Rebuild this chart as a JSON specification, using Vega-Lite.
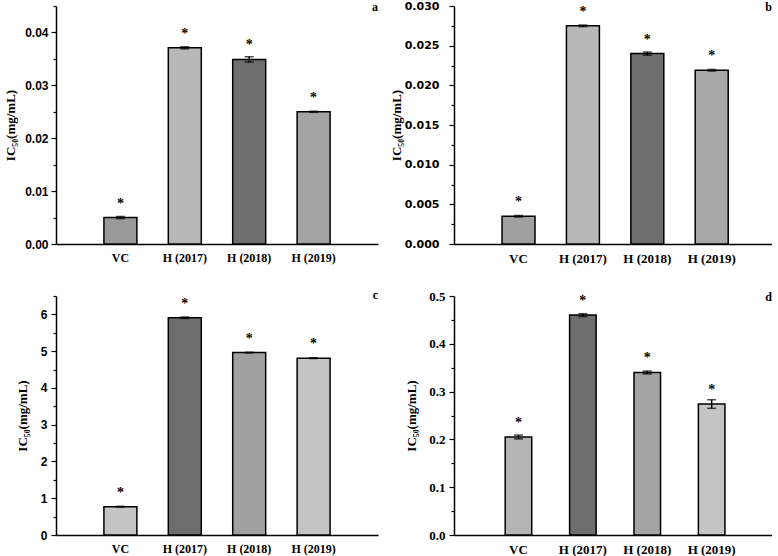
{
  "$schema": "https://vega.github.io/schema/vega-lite/v6.json",
  "background": "white",
  "padding": {"left": 4, "top": 0, "right": 0, "bottom": 0},
  "data": {"values": [
    {"p": "a", "g": "VC", "v": 0.0050, "e": 0.0002},
    {"p": "a", "g": "H (2017)", "v": 0.0371, "e": 0.0002},
    {"p": "a", "g": "H (2018)", "v": 0.0349, "e": 0.0005},
    {"p": "a", "g": "H (2019)", "v": 0.0250, "e": 0.0001},
    {"p": "b", "g": "VC", "v": 0.0035, "e": 0.0001},
    {"p": "b", "g": "H (2017)", "v": 0.0275, "e": 0.0001},
    {"p": "b", "g": "H (2018)", "v": 0.0240, "e": 0.0002},
    {"p": "b", "g": "H (2019)", "v": 0.0219, "e": 0.0001},
    {"p": "c", "g": "VC", "v": 0.77, "e": 0.01},
    {"p": "c", "g": "H (2017)", "v": 5.91, "e": 0.02},
    {"p": "c", "g": "H (2018)", "v": 4.96, "e": 0.01},
    {"p": "c", "g": "H (2019)", "v": 4.81, "e": 0.01},
    {"p": "d", "g": "VC", "v": 0.205, "e": 0.004},
    {"p": "d", "g": "H (2017)", "v": 0.46, "e": 0.003},
    {"p": "d", "g": "H (2018)", "v": 0.34, "e": 0.003},
    {"p": "d", "g": "H (2019)", "v": 0.274, "e": 0.009}
  ]},
  "config": {
    "view": {"stroke": null},
    "axis": {"domainColor": "black", "tickColor": "black", "labelColor": "black", "titleColor": "black", "grid": false},
    "text": {"color": "black"},
    "title": {"color": "black"}
  },
  "columns": 2,
  "spacing": {"row": 52, "column": 76},
  "bounds": "flush",
  "resolve": {"scale": {"fill": "independent", "x": "independent", "y": "independent"}},
  "concat": [
    {
      "width": 322, "height": 238,
      "transform": [{"filter": "datum.p === 'a'"}],
      "title": {"text": "a", "anchor": "end", "frame": "group", "offset": -13.5, "font": "Liberation Serif", "fontSize": 12, "fontWeight": "bold"},
      "encoding": {
        "x": {"field": "g", "type": "nominal", "sort": null, "scale": {"paddingInner": 0.488, "paddingOuter": 0.744},
          "axis": {"title": null, "ticks": false, "labelAngle": 0, "labelFont": "Liberation Serif", "labelFontSize": 12, "labelFontWeight": "bold", "labelPadding": 8, "domainWidth": 1.5}},
        "y": {"field": "v", "type": "quantitative", "scale": {"domain": [0, 0.045], "nice": false},
          "axis": {"title": "IC₅₀(mg/mL)", "titleFont": "Liberation Serif", "titleFontSize": 13, "titleFontWeight": "bold", "titlePadding": 7,
            "values": [0, 0.005, 0.01, 0.015, 0.02, 0.025, 0.03, 0.035, 0.04, 0.045],
            "labelExpr": "abs(datum.value*100 - round(datum.value*100)) < 0.001 ? format(datum.value, '.2f') : ''",
            "tickSize": {"condition": {"test": "abs(datum.value*100 - round(datum.value*100)) < 0.001", "value": 5}, "value": 3},
            "labelFont": "Liberation Sans", "labelFontSize": 12, "labelFontWeight": "bold", "labelPadding": 3, "labelOverlap": false, "labelFlush": false, "domainWidth": 1.5, "tickWidth": 1.2}}
      },
      "layer": [
        {"mark": {"type": "bar", "stroke": "black", "strokeWidth": 1.5},
          "encoding": {"fill": {"field": "g", "type": "nominal", "scale": {"domain": ["VC", "H (2017)", "H (2018)", "H (2019)"], "range": ["#9a9a9a", "#b8b8b8", "#6e6e6e", "#a4a4a4"]}, "legend": null}}},
        {"mark": {"type": "errorbar", "ticks": {"size": 9}, "thickness": 1.5},
          "encoding": {"yError": {"field": "e"}, "color": {"value": "black"}}},
        {"mark": {"type": "text", "text": "*", "dy": -14, "font": "Liberation Serif", "fontSize": 14, "fontWeight": "bold", "color": "black"}}
      ]
    },
    {
      "width": 318, "height": 238,
      "transform": [{"filter": "datum.p === 'b'"}],
      "title": {"text": "b", "anchor": "end", "frame": "group", "offset": -14, "font": "Liberation Serif", "fontSize": 12, "fontWeight": "bold"},
      "encoding": {
        "x": {"field": "g", "type": "nominal", "sort": null, "scale": {"paddingInner": 0.488, "paddingOuter": 0.713, "align": 0.523},
          "axis": {"title": null, "ticks": false, "labelAngle": 0, "labelFont": "Liberation Serif", "labelFontSize": 13, "labelFontWeight": "bold", "labelPadding": 8, "domainWidth": 1.5}},
        "y": {"field": "v", "type": "quantitative", "scale": {"domain": [0, 0.030], "nice": false},
          "axis": {"title": "IC₅₀(mg/mL)", "titleFont": "Liberation Serif", "titleFontSize": 13, "titleFontWeight": "bold", "titlePadding": 1,
            "values": [0, 0.0025, 0.005, 0.0075, 0.01, 0.0125, 0.015, 0.0175, 0.02, 0.0225, 0.025, 0.0275, 0.03],
            "labelExpr": "abs(datum.value*200 - round(datum.value*200)) < 0.001 ? format(datum.value, '.3f') : ''",
            "tickSize": {"condition": {"test": "abs(datum.value*200 - round(datum.value*200)) < 0.001", "value": 5}, "value": 3},
            "labelFont": "DejaVu Sans", "labelFontSize": 11, "labelFontWeight": "bold", "labelPadding": 10, "labelOverlap": false, "labelFlush": false, "domainWidth": 1.5, "tickWidth": 1.2}}
      },
      "layer": [
        {"mark": {"type": "bar", "stroke": "black", "strokeWidth": 1.5},
          "encoding": {"fill": {"field": "g", "type": "nominal", "scale": {"domain": ["VC", "H (2017)", "H (2018)", "H (2019)"], "range": ["#a0a0a0", "#b8b8b8", "#6e6e6e", "#a8a8a8"]}, "legend": null}}},
        {"mark": {"type": "errorbar", "ticks": {"size": 9}, "thickness": 1.5},
          "encoding": {"yError": {"field": "e"}, "color": {"value": "black"}}},
        {"mark": {"type": "text", "text": "*", "dy": -14, "font": "Liberation Serif", "fontSize": 14, "fontWeight": "bold", "color": "black"}}
      ]
    },
    {
      "width": 322, "height": 239,
      "transform": [{"filter": "datum.p === 'c'"}],
      "title": {"text": "c", "anchor": "end", "frame": "group", "offset": -11.5, "font": "Liberation Serif", "fontSize": 12, "fontWeight": "bold"},
      "encoding": {
        "x": {"field": "g", "type": "nominal", "sort": null, "scale": {"paddingInner": 0.488, "paddingOuter": 0.744},
          "axis": {"title": null, "ticks": false, "labelAngle": 0, "labelFont": "Liberation Serif", "labelFontSize": 12, "labelFontWeight": "bold", "labelPadding": 8, "domainWidth": 1.5}},
        "y": {"field": "v", "type": "quantitative", "scale": {"domain": [0, 6.5], "nice": false},
          "axis": {"title": "IC₅₀(mg/mL)", "titleFont": "Liberation Serif", "titleFontSize": 13, "titleFontWeight": "bold", "titlePadding": 11,
            "values": [0, 0.5, 1, 1.5, 2, 2.5, 3, 3.5, 4, 4.5, 5, 5.5, 6, 6.5],
            "labelExpr": "abs(datum.value - round(datum.value)) < 0.001 ? format(datum.value, 'd') : ''",
            "tickSize": {"condition": {"test": "abs(datum.value - round(datum.value)) < 0.001", "value": 5}, "value": 3},
            "labelFont": "Liberation Sans", "labelFontSize": 12, "labelFontWeight": "bold", "labelPadding": 4, "labelOverlap": false, "labelFlush": false, "domainWidth": 1.5, "tickWidth": 1.2}}
      },
      "layer": [
        {"mark": {"type": "bar", "stroke": "black", "strokeWidth": 1.5},
          "encoding": {"fill": {"field": "g", "type": "nominal", "scale": {"domain": ["VC", "H (2017)", "H (2018)", "H (2019)"], "range": ["#c4c4c4", "#6e6e6e", "#a0a0a0", "#c4c4c4"]}, "legend": null}}},
        {"mark": {"type": "errorbar", "ticks": {"size": 9}, "thickness": 1.5},
          "encoding": {"yError": {"field": "e"}, "color": {"value": "black"}}},
        {"mark": {"type": "text", "text": "*", "dy": -14, "font": "Liberation Serif", "fontSize": 14, "fontWeight": "bold", "color": "black"}}
      ]
    },
    {
      "width": 318, "height": 239,
      "transform": [{"filter": "datum.p === 'd'"}],
      "title": {"text": "d", "anchor": "end", "frame": "group", "offset": -14.3, "font": "Liberation Serif", "fontSize": 12, "fontWeight": "bold"},
      "encoding": {
        "x": {"field": "g", "type": "nominal", "sort": null, "scale": {"paddingInner": 0.588, "paddingOuter": 0.763, "align": 0.521},
          "axis": {"title": null, "ticks": false, "labelAngle": 0, "labelFont": "Liberation Serif", "labelFontSize": 13, "labelFontWeight": "bold", "labelPadding": 8, "domainWidth": 1.5}},
        "y": {"field": "v", "type": "quantitative", "scale": {"domain": [0, 0.5], "nice": false},
          "axis": {"title": "IC₅₀(mg/mL)", "titleFont": "Liberation Serif", "titleFontSize": 13, "titleFontWeight": "bold", "titlePadding": 10,
            "values": [0, 0.05, 0.1, 0.15, 0.2, 0.25, 0.3, 0.35, 0.4, 0.45, 0.5],
            "labelExpr": "abs(datum.value*10 - round(datum.value*10)) < 0.001 ? format(datum.value, '.1f') : ''",
            "tickSize": {"condition": {"test": "abs(datum.value*10 - round(datum.value*10)) < 0.001", "value": 5}, "value": 3},
            "labelFont": "Liberation Serif", "labelFontSize": 13, "labelFontWeight": "bold", "labelPadding": 4, "labelOverlap": false, "labelFlush": false, "domainWidth": 1.5, "tickWidth": 1.2}}
      },
      "layer": [
        {"mark": {"type": "bar", "stroke": "black", "strokeWidth": 1.5},
          "encoding": {"fill": {"field": "g", "type": "nominal", "scale": {"domain": ["VC", "H (2017)", "H (2018)", "H (2019)"], "range": ["#b4b4b4", "#6e6e6e", "#a4a4a4", "#c4c4c4"]}, "legend": null}}},
        {"mark": {"type": "errorbar", "ticks": {"size": 9}, "thickness": 1.5},
          "encoding": {"yError": {"field": "e"}, "color": {"value": "black"}}},
        {"mark": {"type": "text", "text": "*", "dy": -14, "font": "Liberation Serif", "fontSize": 14, "fontWeight": "bold", "color": "black"}}
      ]
    }
  ]
}
